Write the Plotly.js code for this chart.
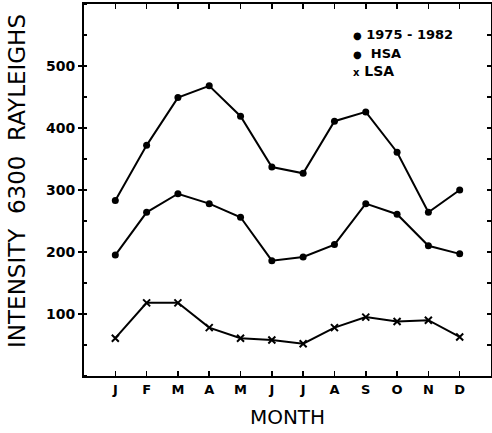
<!DOCTYPE html>
<html>
<head>
<meta charset="utf-8">
<script src="https://cdn.plot.ly/plotly-3.0.1.min.js"></script>
<style>html,body{margin:0;padding:0;background:#fff;}#chart{width:492px;height:433px;}</style>
</head>
<body>
<div id="chart"></div>
<script>
const months = [1,2,3,4,5,6,7,8,9,10,11,12];
const monthLabels = ["J","F","M","A","M","J","J","A","S","O","N","D"];
const hsa = [283,372,449,468,419,337,327,411,426,361,264,300];
const mean7582 = [195,264,294,278,256,186,192,212,278,261,210,197];
const lsa = [61,118,118,78,61,58,52,78,95,88,90,63];
const yTickVals = [100,200,300,400,500];

const lineStyle = {color:'#000', width:2};
const traces = [
  {x:months, y:hsa, name:'HSA', mode:'lines+markers', line:lineStyle,
   marker:{symbol:'circle', size:7, color:'#000'}},
  {x:months, y:mean7582, name:'1975-1982', mode:'lines+markers', line:lineStyle,
   marker:{symbol:'circle', size:7, color:'#000'}},
  {x:months, y:lsa, name:'LSA', mode:'lines+markers', line:lineStyle,
   marker:{symbol:'x-thin-open', size:7, color:'#000', line:{width:2, color:'#000'}}},
  // invisible copy to anchor the mirrored tick axes (top / right)
  {x:months, y:hsa, xaxis:'x2', yaxis:'y2', mode:'markers', marker:{opacity:0}, showlegend:false, hoverinfo:'skip'}
];

const tickFont = {family:'DejaVu Sans', size:14, color:'#000', weight:'bold'};
const layout = {
  width:492, height:433,
  margin:{l:84, r:1, t:4, b:57},
  paper_bgcolor:'#fff', plot_bgcolor:'#fff',
  showlegend:false,
  xaxis:{range:[0,13], tickvals:months, ticktext:monthLabels, ticks:'inside', ticklen:5,
    tickwidth:1.5, tickcolor:'#000', showline:true, linewidth:2, linecolor:'#000',
    mirror:true, showgrid:false, zeroline:false, tickfont:{family:'DejaVu Sans', size:13, color:'#000', weight:'bold'},
    title:{text:'MONTH', font:{family:'DejaVu Sans', size:20, color:'#000'}, standoff:14}},
  yaxis:{range:[0,600], tickvals:yTickVals, ticks:'outside', ticklen:4, tickwidth:1.5,
    tickcolor:'#000', showline:true, linewidth:2, linecolor:'#000', mirror:true,
    showgrid:false, zeroline:false, tickfont:tickFont,
    minor:{dtick:50, tick0:50, ticks:'inside', ticklen:3, tickcolor:'#000', showgrid:false}},
  xaxis2:{overlaying:'x', side:'top', range:[0,13], tickvals:months, ticks:'inside', ticklen:5,
    tickwidth:1.5, tickcolor:'#000', showticklabels:false, showline:false, showgrid:false, zeroline:false},
  yaxis2:{overlaying:'y', side:'right', range:[0,600], tickmode:'linear', dtick:50, tick0:50, ticks:'inside', ticklen:4,
    tickwidth:1.5, tickcolor:'#000', showticklabels:false, showline:false, showgrid:false, zeroline:false},
  annotations:[
    {xref:'paper', yref:'paper', x:-0.165, y:0.524, xanchor:'center', yanchor:'middle', textangle:-90, showarrow:false,
     text:'INTENSITY  6300  RAYLEIGHS', font:{family:'DejaVu Sans', size:23, color:'#000'}},
    {xref:'paper', yref:'paper', x:0.655, y:0.919, xanchor:'left', yanchor:'middle', showarrow:false,
     text:'<b><span style="font-size:10px">●</span> 1975 - 1982</b>', font:{family:'DejaVu Sans', size:13, color:'#000'}},
    {xref:'paper', yref:'paper', x:0.655, y:0.866, xanchor:'left', yanchor:'middle', showarrow:false,
     text:'<b><span style="font-size:10px">●</span>  HSA</b>', font:{family:'DejaVu Sans', size:13, color:'#000'}},
    {xref:'paper', yref:'paper', x:0.655, y:0.820, xanchor:'left', yanchor:'middle', showarrow:false,
     text:'<b><span style="font-size:10px">x</span> LSA</b>', font:{family:'DejaVu Sans', size:14, color:'#000'}}
  ]
};
Plotly.newPlot('chart', traces, layout, {displayModeBar:false, staticPlot:true});
</script>
</body>
</html>
